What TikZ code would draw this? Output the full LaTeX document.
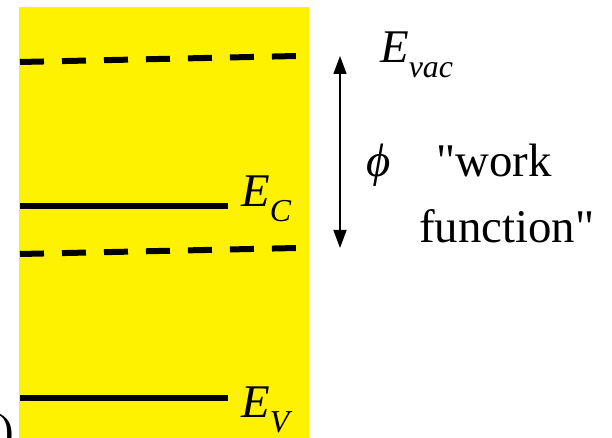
\documentclass[tikz,border=0pt]{standalone}
\usepackage{fontspec}
\setmainfont{Liberation Serif}[Ligatures=TeXOff]
\usetikzlibrary{arrows.meta,positioning,calc}

\newcommand{\levelname}[2]{\textit{#1}\raisebox{-15bp}{\fontsize{32}{32}\selectfont\textit{#2}}}

\begin{document}
\begin{tikzpicture}[
    x=1bp,
    y=-1bp,
    line cap=butt,
    line join=miter,
    level/.style={line width=6.5bp,black},
    vaclevel/.style={line width=6bp,black,dash pattern=on 24bp off 18bp},
    lbl/.style={inner sep=0pt,anchor=base west,font=\fontsize{47}{56}\selectfont},
    gap/.style={{Triangle[length=18bp,width=13bp]}-{Triangle[length=18bp,width=13bp]},line width=1.5bp}
]

\useasboundingbox (0,0) rectangle (612,438);
\fill[yellow] (19,7) rectangle (309,438);

% energy levels
\draw[vaclevel] (20,62) -- (297,56);
\draw[level] (20,206) coordinate (cleft) -- (228,206) coordinate (cright);
\draw[vaclevel] (20,254) -- (297,248);
\draw[level] (20,398) coordinate (vleft) -- (228,398) coordinate (vright);

% labels
\node[lbl] (evac) at (380,63) {\levelname{E}{vac}};
\node[lbl] (ec) at (241,207) {\levelname{E}{C}};
\node[lbl] (ev) at (241,417) {\levelname{E}{V}};

% work function
\coordinate (phitop) at (340,56);
\coordinate (phibot) at (340,248);
\draw[gap] (phitop) -- (phibot);
\node[lbl] (phi) at (366,177) {\textit{ϕ}};
\node[lbl] (work) at (436,177) {"work};
\node[lbl] (func) at (419,243) {function"};

\node[lbl] (paren) at (-2,446) {)};

\end{tikzpicture}
\end{document}
